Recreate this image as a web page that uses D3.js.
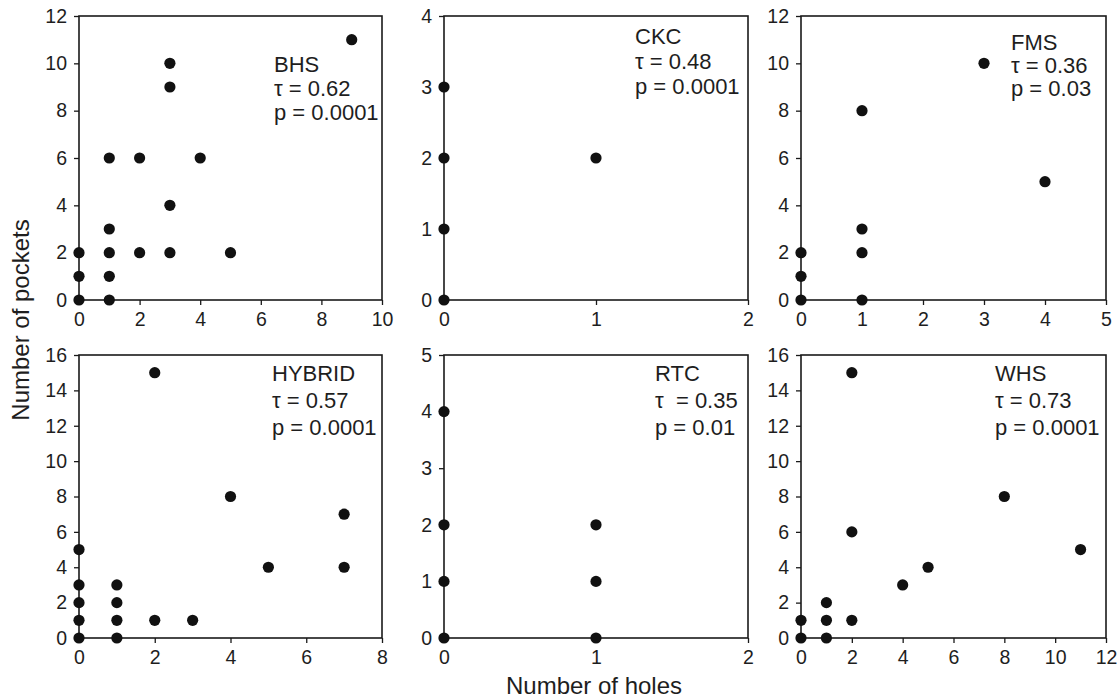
<!DOCTYPE html>
<html>
<head>
<meta charset="utf-8">
<script src="https://cdn.jsdelivr.net/npm/d3@7"></script>
<style>
  html, body { margin: 0; padding: 0; background: #fff; }
  svg { display: block; }
  text { font-family: "Liberation Sans", Arial, Helvetica, sans-serif; fill: #1e1e1e; }
  text.anno { white-space: pre; }
</style>
</head>
<body>
<svg id="chart" width="1120" height="700"></svg>
<script>
// ---- data (holes = x, pockets = y) ----
const panelNames = ["BHS", "CKC", "FMS", "HYBRID", "RTC", "WHS"];
const tauLabels = ["\u03c4 = 0.62", "\u03c4 = 0.48", "\u03c4 = 0.36", "\u03c4 = 0.57", "\u03c4  = 0.35", "\u03c4 = 0.73"];
const pLabels = ["p = 0.0001", "p = 0.0001", "p = 0.03", "p = 0.0001", "p = 0.01", "p = 0.0001"];

const bhsHoles   = [0, 0, 0, 1, 1, 1, 1, 1, 2, 2, 3, 3, 3, 3, 4, 5, 9];
const bhsPockets = [0, 1, 2, 0, 1, 2, 3, 6, 2, 6, 2, 4, 9, 10, 6, 2, 11];
const ckcHoles   = [0, 0, 0, 0, 1];
const ckcPockets = [0, 1, 2, 3, 2];
const fmsHoles   = [0, 0, 0, 1, 1, 1, 1, 3, 4];
const fmsPockets = [0, 1, 2, 0, 2, 3, 8, 10, 5];
const hybHoles   = [0, 0, 0, 0, 0, 1, 1, 1, 1, 2, 2, 3, 4, 5, 7, 7];
const hybPockets = [0, 1, 2, 3, 5, 0, 1, 2, 3, 1, 15, 1, 8, 4, 4, 7];
const rtcHoles   = [0, 0, 0, 0, 1, 1, 1];
const rtcPockets = [0, 1, 2, 4, 0, 1, 2];
const whsHoles   = [0, 0, 1, 1, 1, 2, 2, 2, 4, 5, 8, 11];
const whsPockets = [0, 1, 0, 1, 2, 1, 6, 15, 3, 4, 8, 5];

const xTickSets = [[0, 2, 4, 6, 8, 10], [0, 1, 2], [0, 1, 2, 3, 4, 5], [0, 2, 4, 6, 8], [0, 1, 2], [0, 2, 4, 6, 8, 10, 12]];
const yTickSets = [[0, 2, 4, 6, 8, 10, 12], [0, 1, 2, 3, 4], [0, 2, 4, 6, 8, 10, 12], [0, 2, 4, 6, 8, 10, 12, 14, 16], [0, 1, 2, 3, 4, 5], [0, 2, 4, 6, 8, 10, 12, 14, 16]];

const xTitle = "Number of holes";
const yTitle = "Number of pockets";

// ---- layout ----
const cols = [[79, 382], [444, 748], [801, 1106]];
const rows = [[16, 300], [355, 638]];
const annoX = [274, 635, 1011, 272, 655, 995];
const annoY = [72, 44, 50, 381, 381, 381];
const lineGap = [24, 25, 23, 27, 27, 27];

const panelData = [
  [bhsHoles, bhsPockets], [ckcHoles, ckcPockets], [fmsHoles, fmsPockets],
  [hybHoles, hybPockets], [rtcHoles, rtcPockets], [whsHoles, whsPockets]
];

const svg = d3.select("#chart");
const ink = "#1a1a1a";

panelNames.forEach((name, i) => {
  const c = cols[i % 3], r = rows[Math.floor(i / 3)];
  const xt = xTickSets[i], yt = yTickSets[i];
  const x = d3.scaleLinear().domain([xt[0], xt[xt.length - 1]]).range(c);
  const y = d3.scaleLinear().domain([yt[0], yt[yt.length - 1]]).range([r[1], r[0]]);
  const g = svg.append("g");

  const xa = g.append("g").attr("transform", `translate(0,${r[1]})`)
    .call(d3.axisBottom(x).tickValues(xt).tickFormat(d3.format("d")).tickSize(5).tickSizeOuter(0).tickPadding(7));
  const ya = g.append("g").attr("transform", `translate(${c[0]},0)`)
    .call(d3.axisLeft(y).tickValues(yt).tickFormat(d3.format("d")).tickSize(5).tickSizeOuter(0).tickPadding(7));
  [xa, ya].forEach(a => {
    a.select(".domain").remove();
    a.selectAll("line").attr("stroke", ink).attr("stroke-width", 1.3);
    a.selectAll("text").style("font-size", "19.5px").attr("fill", "#1e1e1e")
      .style("font-family", '"Liberation Sans", Arial, sans-serif');
  });

  g.append("rect")
    .attr("x", c[0]).attr("y", r[0])
    .attr("width", c[1] - c[0]).attr("height", r[1] - r[0])
    .attr("fill", "none").attr("stroke", ink).attr("stroke-width", 1.6);

  const [hx, py] = panelData[i];
  g.selectAll("circle").data(hx.map((h, k) => [h, py[k]])).enter().append("circle")
    .attr("cx", d => x(d[0])).attr("cy", d => y(d[1])).attr("r", 5.6).attr("fill", "#111");

  const lines = [name, tauLabels[i], pLabels[i]];
  g.selectAll("text.anno").data(lines).enter().append("text").attr("class", "anno")
    .attr("x", annoX[i]).attr("y", (d, k) => annoY[i] + k * lineGap[i])
    .style("font-size", "22px").text(d => d);
});

svg.append("text").attr("x", 594).attr("y", 694).attr("text-anchor", "middle")
  .style("font-size", "24px").text(xTitle);
svg.append("text").attr("transform", "translate(29,320) rotate(-90)").attr("text-anchor", "middle")
  .style("font-size", "24px").text(yTitle);
</script>
</body>
</html>
